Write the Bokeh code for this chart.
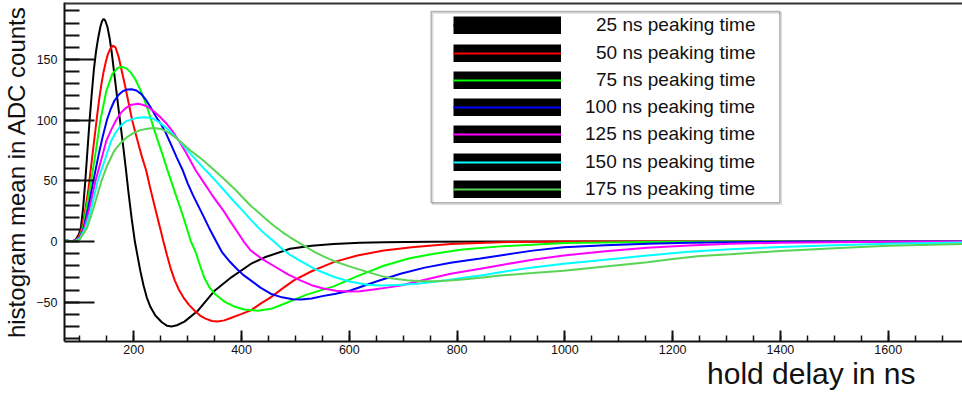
from bokeh.plotting import figure
from bokeh.models import (Range1d, FixedTicker, Legend, LegendItem, BoxAnnotation, Span, Title,
                          ColumnDataSource)
from bokeh.embed import file_html
from bokeh.resources import INLINE

# ---------------- data ----------------
series_labels = ["25 ns peaking time", "50 ns peaking time", "75 ns peaking time",
                 "100 ns peaking time", "125 ns peaking time", "150 ns peaking time",
                 "175 ns peaking time"]
series_colors = ["#000000", "#ff0000", "#00ff00", "#0000ff", "#ff00ff", "#00ffff", "#59d454"]

t_25 = [71, 80, 88, 93, 98, 102, 106, 110, 114, 118, 122, 126, 130, 134, 138, 141, 144, 147, 151, 155,
        159, 163, 168, 172, 176, 181, 185, 190, 196, 202, 207, 212, 218, 224, 231, 240, 252, 262, 270,
        280, 294, 319, 350, 381, 417, 443, 490, 530, 571, 620, 664, 750, 900, 1738]
v_25 = [1, 0.5, 0.5, 2, 6, 12, 28, 50, 75, 100, 122, 142, 157, 168, 177, 181.5, 183.5, 182, 177, 168,
        156, 141, 123, 108, 94, 76, 61, 41, 19, 0, -12, -24, -36, -46, -54, -61, -66.5, -69.5, -70,
        -69, -66, -57, -40.5, -29.5, -18.5, -13, -6, -3.5, -2, -1, -0.5, -0.2, 0, 0]

t_50 = [71, 80, 88, 93, 98, 103, 108, 112, 116, 120, 124, 128, 132, 136, 140, 144, 148, 152, 156, 161,
        166, 172, 178, 184, 190, 197, 204, 210, 216, 223, 230, 236, 241, 248, 255, 262, 269, 276, 284,
        292, 302, 313, 323, 333, 345, 356, 368, 380, 398, 417, 436, 454, 475, 497, 530, 571, 615, 664,
        720, 788, 880, 1000, 1738]
v_50 = [1, 0.5, 0.5, 1.5, 4, 10, 21, 32, 44, 59, 74, 89, 104, 118, 130, 140, 148, 154.5, 158.5, 161.5,
        160, 152, 140, 128, 115, 100, 88, 78, 68.5, 58.5, 45, 34, 25, 12.5, 0, -12, -23, -32, -40,
        -46, -52, -57, -61, -63.5, -65.5, -66, -65, -63, -60, -56.8, -51, -46, -39, -32, -24.5, -17, -11.5, -7.4,
        -4.5, -2, -0.5, 0, 0]

t_75 = [71, 80, 88, 92, 100, 106, 113, 121, 130, 138, 149, 160, 170, 179, 187, 195, 203, 210, 217, 224,
        231, 238, 245, 253, 262, 270, 279, 288, 297, 306, 315, 323, 331, 340, 350, 368, 386, 405, 430,
        455, 478, 500, 520, 545, 571, 615, 664, 710, 757, 810, 880, 1000, 1150, 1300, 1738]
v_75 = [1, 0.5, 0.5, 1, 4, 12, 30, 50, 76, 100, 124, 138, 143, 144, 142.5, 139, 133.5, 127, 120, 111.5,
        102, 92, 82.5, 72, 59.5, 49, 37, 25.5, 13, 0, -9, -20, -30, -37.5, -43, -49.5, -53.5, -56, -57,
        -55.5, -51.5, -47.5, -44, -40.5, -37, -28.5, -20, -14, -10, -6.5, -4, -1.2, -0.4, 0, 0]

t_100 = [71, 80, 88, 92, 100, 107, 115, 125, 135, 142, 150, 157, 164, 172, 180, 188, 196, 205, 214, 223,
         232, 241, 250, 260, 270, 280, 291, 300, 310, 319, 328, 340, 353, 364, 377, 390, 403, 417, 435,
         454, 475, 495, 510, 530, 550, 575, 602, 650, 695, 740, 788, 843, 880, 940, 998, 1075, 1153, 1230,
         1307, 1450, 1738]
v_100 = [1, 0.5, 0.5, 1, 3.5, 11, 27, 50, 72, 86, 100, 109, 116, 121, 124, 125.3, 125.5, 124.5, 121.5, 116.5,
         110, 103, 97, 89, 79, 69, 58.5, 48, 38, 30, 22, 11, 0, -9, -16, -22, -27.5, -32, -38,
         -43, -46, -47.5, -47.8, -47, -45, -43, -40.4, -33, -26.6, -21.5, -17.5, -14, -11.5, -7.5, -4.7, -3, -1.9, -1,
         -0.5, 0, 0]

t_125 = [71, 80, 88, 92, 100, 108, 117, 129, 140, 149, 158, 167, 176, 185, 196, 208, 218, 228, 238, 248,
         260, 271, 283, 296, 315, 330, 345, 357, 367, 380, 392, 404, 417, 440, 463, 486, 509, 530, 550,
         575, 596, 620, 645, 670, 695, 740, 788, 843, 880, 940, 998, 1075, 1153, 1230, 1307, 1400, 1500,
         1600, 1738]
v_125 = [1, 0.5, 0.5, 1, 3, 11, 26, 50, 68, 83, 92, 100, 106, 110, 112.8, 113.5, 112.5, 110.5, 107, 103,
         97.5, 91.4, 83.5, 74, 58.5, 48.5, 38.5, 31, 25, 16, 8, 0, -7.4, -15, -21, -27, -32, -36, -38.5,
         -40.5, -41.2, -41, -39.5, -38, -36.2, -31.5, -26.6, -22.5, -19.5, -15, -11.5, -8, -5.2, -3.3, -1.9, -1, -0.5,
         -0.2, 0]

t_150 = [71, 80, 88, 92, 100, 110, 120, 133, 146, 158, 166, 175, 185, 195, 205, 213, 222, 235, 248, 258,
         268, 280, 292, 305, 320, 336, 352, 370, 386, 402, 416, 430, 445, 460, 475, 490, 509, 540, 571,
         600, 633, 660, 690, 726, 770, 819, 850, 880, 940, 998, 1075, 1153, 1230, 1307, 1400, 1500, 1600,
         1738]
v_150 = [1, 0.5, 0.5, 0.5, 2.5, 11, 25, 50, 67, 83, 89.5, 95, 99, 100.5, 101.8, 102.3, 102.5, 101.5, 98, 94.5,
         90.5, 85, 79, 72.5, 65, 57.5, 50, 41, 33, 25.5, 18.5, 12, 5.5, 0, -6, -11, -16, -23.5, -29,
         -33, -35.7, -36.2, -35.8, -34.8, -32.5, -29.4, -27.5, -25.3, -21.5, -18.4, -15, -11.5, -8.5, -6.3, -4.5, -3, -1.8,
         -0.8]

t_175 = [71, 80, 88, 92, 100, 113, 125, 140, 150, 164, 176, 189, 200, 212, 225, 237, 250, 262, 275, 290,
         305, 320, 335, 350, 370, 390, 404, 417, 430, 445, 460, 475, 490, 503, 520, 535, 553, 571, 600,
         633, 660, 680, 707, 730, 757, 785, 810, 843, 880, 940, 998, 1075, 1153, 1200, 1251, 1307, 1400,
         1500, 1600, 1738]
v_175 = [1, 0.5, 0.5, 0.5, 2, 11, 27, 50, 62, 75, 81.5, 86.5, 89.5, 91.8, 93, 93.5, 92.8, 90.5, 86.5, 81,
         75, 70, 64.5, 58.5, 50.5, 42, 35.5, 29.5, 24.5, 18.5, 13, 8, 3.5, 0, -4.5, -8.5, -12.5, -16, -20.5,
         -25, -28.5, -30.5, -32, -32.7, -32.7, -32.2, -31.3, -29.8, -28, -26, -24, -20.5, -17, -14.5, -12, -10.5, -7.8,
         -5.5, -3.5, -2]

series_t = [t_25, t_50, t_75, t_100, t_125, t_150, t_175]
series_v = [v_25, v_50, v_75, v_100, v_125, v_150, v_175]

x_major_ticks = [200, 400, 600, 800, 1000, 1200, 1400, 1600]
x_minor_ticks = list(range(100, 1751, 50))
y_major_ticks = [-50, 0, 50, 100, 150]
y_minor_ticks = list(range(-80, 191, 10))

x_title = "hold delay in ns"
y_title = "histogram mean in ADC counts"

# ---------------- layout / style ----------------
W, H = 962, 397
FRAME_L, FRAME_T, FRAME_W, FRAME_H = 64, 2, 898, 339
X0, X1 = 71.4, 1737.9
Y0, Y1 = -82.4, 197.0
FONT = "Liberation Sans"
INK = "#111111"


def dx(px):
    return X0 + (px - FRAME_L) / FRAME_W * (X1 - X0)


def dy(py):
    return Y1 - (py - FRAME_T) / FRAME_H * (Y1 - Y0)


p = figure(width=W, height=H, output_backend="svg", toolbar_location=None,
           x_range=Range1d(X0, X1), y_range=Range1d(Y0, Y1),
           min_border_left=FRAME_L, min_border_right=0, min_border_top=FRAME_T,
           min_border_bottom=H - FRAME_T - FRAME_H)
p.outline_line_color = None
p.xgrid.visible = False
p.ygrid.visible = False
p.background_fill_color = "white"
p.border_fill_color = "white"

xa = p.xaxis[0]
xa.ticker = FixedTicker(ticks=x_major_ticks, minor_ticks=x_minor_ticks)
xa.major_tick_in = 11
xa.major_tick_out = 0
xa.minor_tick_in = 6
xa.minor_tick_out = 0
xa.axis_line_width = 2
xa.axis_line_color = INK
xa.major_tick_line_width = 2
xa.major_tick_line_color = INK
xa.minor_tick_line_width = 1.5
xa.minor_tick_line_color = INK
xa.major_label_text_font = FONT
xa.major_label_text_font_size = "12.5px"
xa.major_label_text_color = INK
xa.major_label_standoff = 3

ya = p.yaxis[0]
ya.ticker = FixedTicker(ticks=y_major_ticks, minor_ticks=y_minor_ticks)
ya.major_tick_in = 30
ya.major_tick_out = 0
ya.minor_tick_in = 15
ya.minor_tick_out = 0
ya.axis_line_width = 2
ya.axis_line_color = INK
ya.major_tick_line_width = 2
ya.major_tick_line_color = INK
ya.minor_tick_line_width = 2
ya.minor_tick_line_color = INK
ya.major_label_text_font = FONT
ya.major_label_text_font_size = "12.5px"
ya.major_label_text_color = INK
ya.major_label_standoff = 7
ya.axis_label = y_title
ya.axis_label_text_font = FONT
ya.axis_label_text_font_size = "24px"
ya.axis_label_text_font_style = "normal"
ya.axis_label_text_color = INK
ya.axis_label_standoff = 3

p.add_layout(Span(location=Y1, dimension="width", line_color="#333333", line_width=4))

p.add_layout(Title(text=x_title, align="right", offset=47, standoff=0, vertical_align="top",
                   text_font=FONT, text_font_size="30px", text_font_style="normal",
                   text_color=INK), "below")

line_renderers = []
for t, v, c in zip(series_t, series_v, series_colors):
    line_renderers.append(p.line(t, v, line_color=c, line_width=2))

# legend frame (ROOT-style box with a faint shadow)
p.add_layout(BoxAnnotation(left=dx(432.2), right=dx(780.8), top=dy(12.5), bottom=dy(203.8),
                           fill_color=None, line_color="#8a8a8a", line_width=1.5))
p.add_layout(BoxAnnotation(left=dx(430.7), right=dx(779.3), top=dy(11), bottom=dy(202.3),
                           fill_color=None, line_color="black", line_width=1.5))

# legend rows: black swatch with the coloured line through it, labels right-aligned
row_center0, row_pitch = 25.2, 27.3
for i, (r, c, lab) in enumerate(zip(line_renderers, series_colors, series_labels)):
    swatch = p.line(x="x", y="y", source=ColumnDataSource(dict(x=[float("nan")], y=[float("nan")])),
                    line_color="black", line_width=18)
    ndig = len(lab.split()[0])
    standoff = 24 + (3 - ndig) * 10.56
    c_i = row_center0 + row_pitch * i
    leg = Legend(items=[LegendItem(label=lab, renderers=[swatch, r])],
                 location=(389, FRAME_T + FRAME_H - (c_i + 11)), padding=4, spacing=0, margin=0,
                 glyph_width=108, glyph_height=18, label_height=18, label_standoff=int(round(standoff)),
                 label_text_font=FONT, label_text_font_size="19px", label_text_color=INK,
                 border_line_color=None, background_fill_alpha=0)
    p.add_layout(leg)

open("out.html", "w").write(file_html(p, INLINE))
